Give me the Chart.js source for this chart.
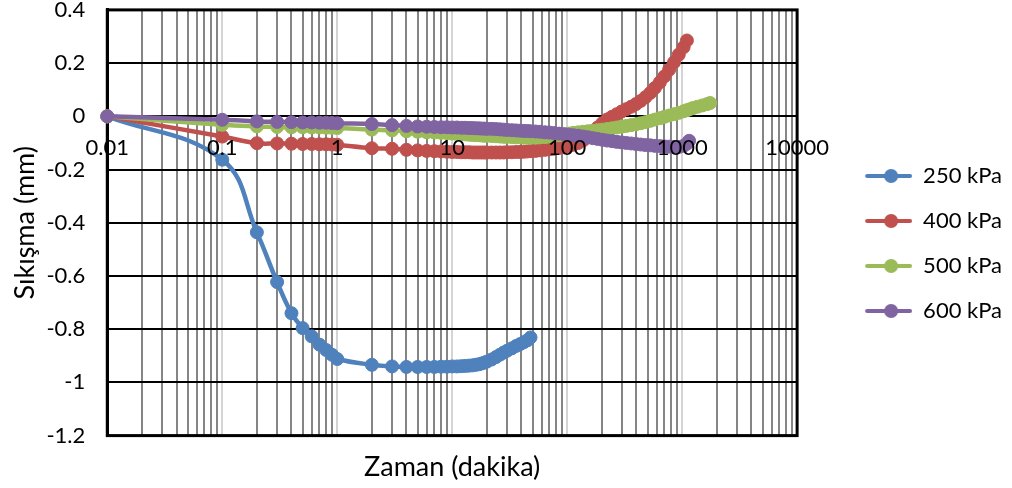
<!DOCTYPE html>
<html>
<head>
<meta charset="utf-8">
<script src="https://cdn.jsdelivr.net/npm/chart.js@4.4.1/dist/chart.umd.min.js"></script>
<style>
  html, body { margin: 0; padding: 0; background: #fff; }
</style>
</head>
<body>
<canvas id="chart" width="1012" height="488"></canvas>
<script>
// Time of each reading (minutes)
const zaman = [
  0.01, 0.1, 0.2, 0.3, 0.4, 0.5, 0.6, 0.7, 0.8, 0.9, 1,
  2, 3, 4, 5, 6, 7, 8, 9, 10,
  11, 12, 13, 14, 15, 16, 17, 18, 19, 20,
  22, 24, 26, 28, 30, 33, 36, 39, 42, 45, 48,
  53, 58, 64, 70, 77, 85, 94, 103, 113, 125,
  138, 152, 167, 184, 202, 222, 245, 270, 297, 327,
  360, 396, 436, 480, 528, 580, 640, 700, 770, 850,
  935, 1030, 1100, 1150, 1240, 1360, 1500, 1650, 1750
];

// Settlement readings (mm), one value per entry of zaman, in order
const kpa250 = [
  0, -0.163, -0.436, -0.623, -0.740, -0.796, -0.827, -0.858, -0.878, -0.896, -0.912,
  -0.934, -0.940, -0.942, -0.942, -0.942, -0.942, -0.941, -0.941, -0.940,
  -0.940, -0.939, -0.938, -0.937, -0.936, -0.934, -0.932, -0.929, -0.926, -0.922,
  -0.914, -0.905, -0.896, -0.888, -0.881, -0.872, -0.863, -0.856, -0.849, -0.842, -0.831
];
const kpa400 = [
  0, -0.076, -0.101, -0.102, -0.103, -0.104, -0.104, -0.105, -0.105, -0.106, -0.107,
  -0.120, -0.122, -0.126, -0.128, -0.130, -0.131, -0.132, -0.133, -0.134,
  -0.134, -0.135, -0.135, -0.135, -0.136, -0.136, -0.136, -0.136, -0.136, -0.136,
  -0.136, -0.136, -0.136, -0.136, -0.135, -0.135, -0.134, -0.134, -0.133, -0.132, -0.131,
  -0.130, -0.128, -0.126, -0.124, -0.122, -0.119, -0.116, -0.112, -0.107, -0.100,
  -0.090, -0.076, -0.060, -0.042, -0.026, -0.012, -0.002, 0.008, 0.018, 0.027,
  0.036, 0.046, 0.058, 0.072, 0.088, 0.107, 0.128, 0.150, 0.175, 0.203,
  0.232, 0.260, 0.285
];
const kpa500 = [
  0, -0.032, -0.038, -0.040, -0.041, -0.041, -0.042, -0.042, -0.043, -0.043, -0.044,
  -0.050, -0.053, -0.056, -0.058, -0.060, -0.061, -0.062, -0.063, -0.065,
  -0.066, -0.067, -0.068, -0.069, -0.070, -0.071, -0.071, -0.072, -0.073, -0.073,
  -0.074, -0.075, -0.076, -0.077, -0.077, -0.078, -0.079, -0.079, -0.080, -0.080, -0.080,
  -0.080, -0.079, -0.078, -0.076, -0.074, -0.071, -0.068, -0.065, -0.062, -0.060,
  -0.058, -0.056, -0.054, -0.052, -0.050, -0.048, -0.045, -0.042, -0.039, -0.036,
  -0.033, -0.030, -0.026, -0.022, -0.017, -0.012, -0.007, -0.002, 0.003, 0.008,
  0.013, 0.019, 0.023, 0.026, 0.031, 0.036, 0.041, 0.046, 0.050
];
const kpa600 = [
  0, -0.013, -0.019, -0.021, -0.022, -0.023, -0.023, -0.024, -0.024, -0.025, -0.026,
  -0.029, -0.033, -0.036, -0.038, -0.039, -0.040, -0.041, -0.041, -0.042,
  -0.042, -0.043, -0.043, -0.044, -0.044, -0.045, -0.045, -0.046, -0.046, -0.047,
  -0.047, -0.048, -0.049, -0.050, -0.051, -0.052, -0.053, -0.054, -0.055, -0.055, -0.056,
  -0.057, -0.058, -0.060, -0.061, -0.063, -0.065, -0.067, -0.069, -0.071, -0.073,
  -0.076, -0.079, -0.082, -0.085, -0.088, -0.091, -0.093, -0.096, -0.098, -0.100,
  -0.102, -0.104, -0.106, -0.108, -0.109, -0.111, -0.112, -0.113, -0.114, -0.115,
  -0.115, -0.111, -0.103, -0.092
];

const seriesNames = ['250 kPa', '400 kPa', '500 kPa', '600 kPa'];
const seriesValues = [kpa250, kpa400, kpa500, kpa600];
const seriesColors = ['#4F81BD', '#C0504D', '#9BBB59', '#8064A2'];

// Axis ticks
const decades = [0.01, 0.1, 1, 10, 100, 1000, 10000];
const xTickLabels = ['0.01', '0.1', '1', '10', '100', '1000', '10000'];
const yTicks = [0.4, 0.2, 0, -0.2, -0.4, -0.6, -0.8, -1, -1.2];
const yTickLabels = ['0.4', '0.2', '0', '-0.2', '-0.4', '-0.6', '-0.8', '-1', '-1.2'];

Chart.defaults.font.family = "Lato, 'Open Sans', sans-serif";

// Vertical grid: every 1..9 multiple within each decade
const gridValues = [];
decades.forEach((d, i) => {
  if (i < decades.length - 1) {
    for (let m = 1; m < 10; m++) gridValues.push(+(d * m).toPrecision(6));
  } else {
    gridValues.push(d);
  }
});
const decadeIndex = v => decades.findIndex(d => Math.abs(Math.log10(v / d)) < 1e-6);

// Legend symbol: short line with a round marker in the middle
const MARK_W = 92;
function legendMarker(color) {
  const c = document.createElement('canvas');
  c.width = MARK_W; c.height = 18;
  const g = c.getContext('2d');
  g.strokeStyle = color; g.lineWidth = 4; g.lineCap = 'round';
  g.beginPath(); g.moveTo(MARK_W - 45, 9); g.lineTo(MARK_W - 2, 9); g.stroke();
  g.fillStyle = color;
  g.beginPath(); g.arc(MARK_W - 21, 9, 7, 0, Math.PI * 2); g.fill();
  return c;
}

// Black frame round the plot area, under the series
const plotFrame = {
  id: 'plotFrame',
  beforeDatasetsDraw(chart) {
    const { ctx, chartArea: a } = chart;
    ctx.save();
    ctx.strokeStyle = '#000';
    ctx.lineWidth = 3;
    ctx.strokeRect(a.left, a.top, a.right - a.left, a.bottom - a.top);
    ctx.restore();
  }
};

const datasets = seriesValues.map((vals, i) => ({
  label: seriesNames[i],
  data: vals.map((y, j) => ({ x: zaman[j], y })),
  borderColor: seriesColors[i],
  backgroundColor: seriesColors[i],
  pointBackgroundColor: seriesColors[i],
  pointBorderColor: seriesColors[i],
  pointRadius: 6.5,
  pointBorderWidth: 1,
  borderWidth: 4.5,
  tension: 0.4,
  order: seriesNames.length - i,
  clip: false
}));

new Chart(document.getElementById('chart'), {
  type: 'line',
  data: { datasets },
  plugins: [plotFrame],
  options: {
    responsive: false,
    animation: false,
    layout: { padding: { top: 0, right: 0, bottom: 1, left: 6 } },
    scales: {
      x: {
        type: 'logarithmic',
        position: { y: 0 },
        min: 0.01,
        max: 10000,
        afterBuildTicks: s => { s.ticks = gridValues.map(v => ({ value: v })); },
        ticks: {
          z: 1,
          autoSkip: false, maxRotation: 0, minRotation: 0,
          padding: 18, color: '#000',
          font: { size: 22, lineHeight: 1.2 },
          callback: v => { const k = decadeIndex(v); return k < 0 ? '' : xTickLabels[k]; }
        },
        grid: {
          drawTicks: false,
          color: c => (c.tick && decadeIndex(c.tick.value) >= 0) ? '#d4d4d4' : '#858585',
          lineWidth: 2
        },
        border: { color: '#000', width: 2 }
      },
      y: {
        min: -1.2,
        max: 0.4,
        afterBuildTicks: s => { s.ticks = yTicks.map(v => ({ value: v })); },
        ticks: {
          padding: 0, color: '#000',
          font: { size: 22, lineHeight: 0.9 },
          callback: v => { const k = yTicks.findIndex(t => Math.abs(t - v) < 1e-9); return k < 0 ? '' : yTickLabels[k]; }
        },
        grid: { color: '#000', lineWidth: 2, drawTicks: true, tickLength: 22, tickColor: 'rgba(0,0,0,0)' },
        border: { color: '#000', width: 3 },
        title: {
          display: true, text: 'Sıkışma (mm)', color: '#000',
          font: { size: 27 }, padding: { top: 3, bottom: 5 }
        }
      }
    },
    plugins: {
      legend: {
        position: 'right',
        labels: {
          usePointStyle: true,
          pointStyleWidth: MARK_W,
          padding: 23,
          color: '#000',
          font: { size: 22 },
          sort: (a, b) => a.datasetIndex - b.datasetIndex,
          generateLabels(chart) {
            const items = Chart.defaults.plugins.legend.labels.generateLabels(chart);
            items.forEach(it => { it.pointStyle = legendMarker(seriesColors[it.datasetIndex]); });
            return items;
          }
        }
      },
      title: {
        display: true,
        text: 'Zaman (dakika)',
        position: 'bottom',
        fullSize: false,
        color: '#000',
        font: { size: 27, weight: 'normal' },
        padding: { top: 15, bottom: 4 }
      },
      tooltip: { enabled: false }
    }
  }
});
</script>
</body>
</html>
